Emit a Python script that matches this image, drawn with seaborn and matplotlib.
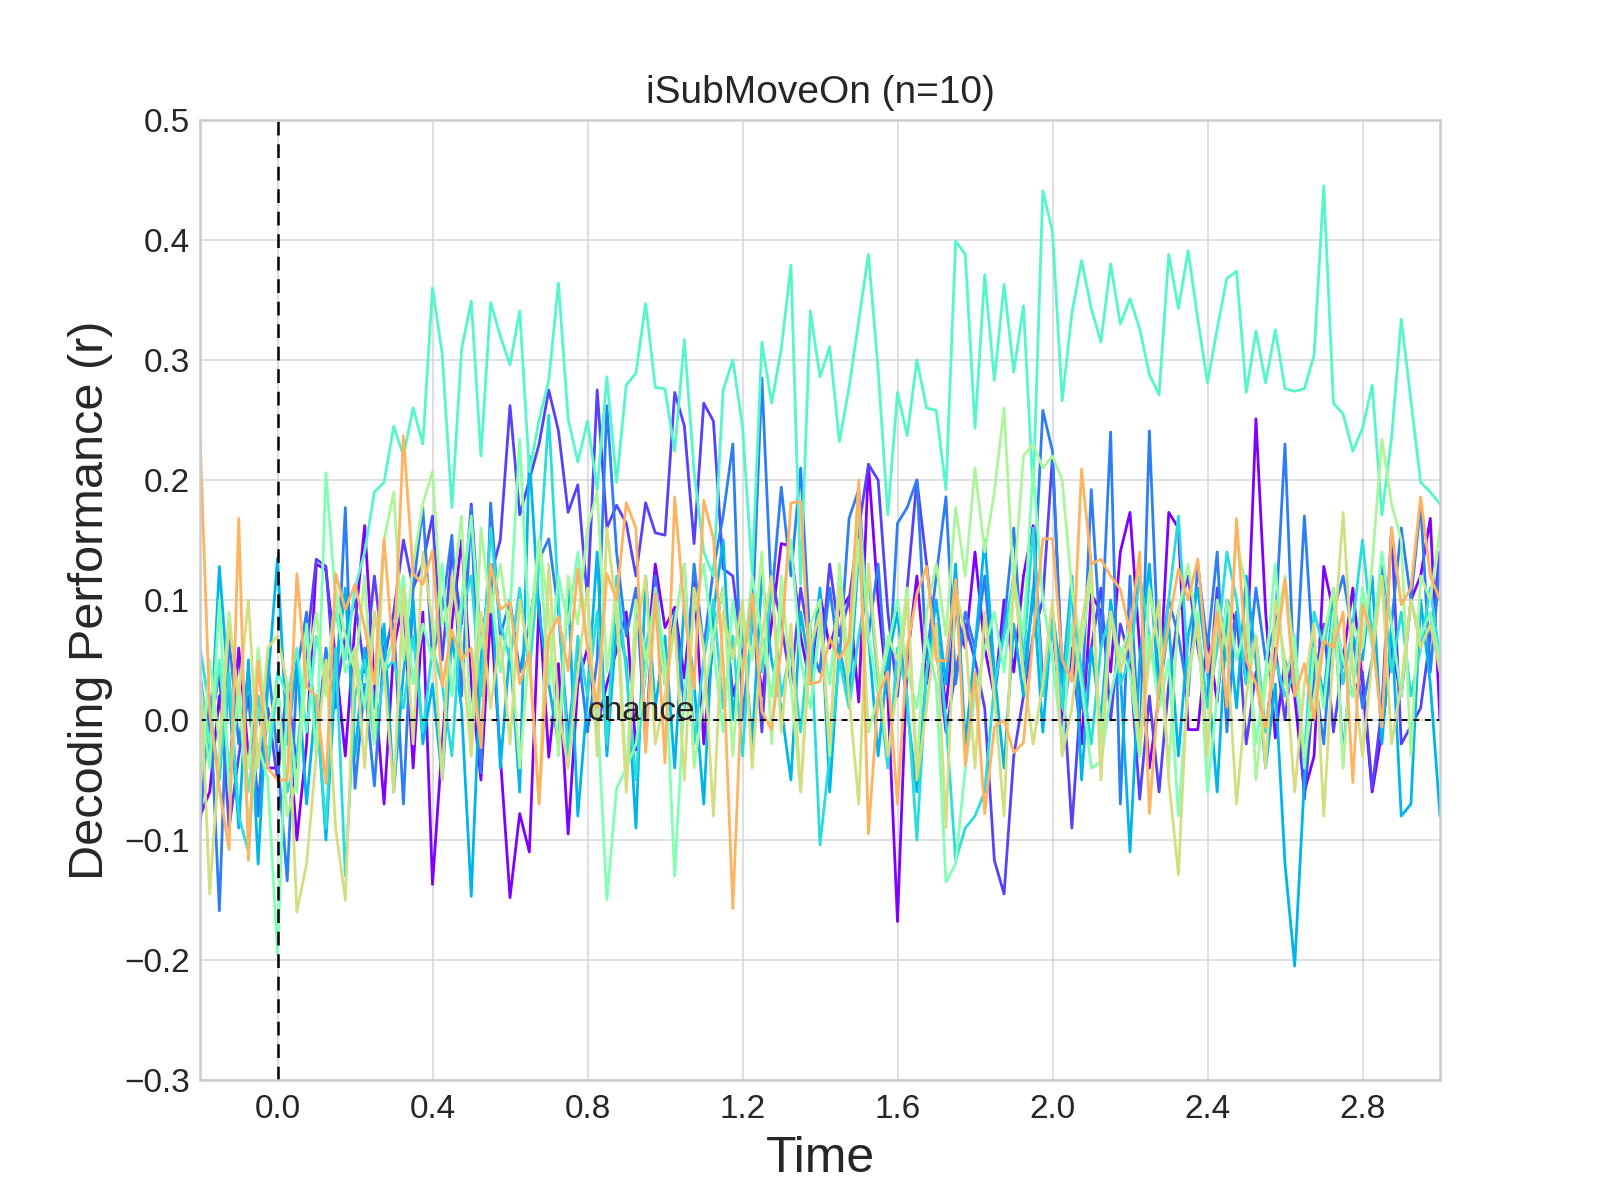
import numpy as np
import pandas as pd
import seaborn as sns
import matplotlib.pyplot as plt

# time axis (s), one sample every 25 ms
time = np.linspace(-0.2, 3.0, 129)

# decoding performance per subject
sub01 = [-0.08, -0.06, 0.02, -0.05, 0.06, -0.03, 0.01, -0.04,
         -0.04, 0.01, -0.10, -0.02, 0.13, 0.125, 0.05, -0.03,
         0.08, 0.162, 0.03, -0.07, 0.06, 0.10, -0.04, 0.09,
         -0.137, -0.02, 0.08, 0.15, 0.03, -0.05, 0.09, -0.03,
         -0.148, -0.078, -0.11, 0.098, -0.031, 0.047, -0.095, 0.03,
         0.06, -0.006, 0.03, 0.058, 0.09, -0.025, 0.04, 0.13,
         0.077, 0.094, 0.035, 0.12, -0.02, 0.07, 0.11, 0.02,
         0.05, 0.10, 0.02, 0.08, 0.147, 0.145, 0.07, 0.03,
         0.105, 0.06, 0.09, 0.103, 0.015, 0.213, 0.10, 0.02,
         -0.168, 0.05, 0.12, 0.03, 0.08, 0.01, 0.09, 0.06,
         0.14, 0.06, 0.02, 0.10, 0.04, 0.12, 0.162, 0.03,
         0.08, -0.005, 0.06, -0.02, 0.105, 0.09, 0.04, 0.14,
         0.173, 0.06, -0.04, 0.02, 0.173, 0.16, -0.008, -0.008,
         0.07, 0.015, 0.10, 0.08, 0.04, 0.251, 0.09, -0.015,
         0.05, 0.02, -0.06, -0.03, 0.128, 0.09, 0.05, 0.11,
         0.03, -0.06, -0.01, 0.06, 0.02, 0.10, 0.12, 0.168,
         0.0]
sub02 = [-0.05, -0.01, 0.04, -0.09, -0.03, 0.02, -0.07, 0.01,
         -0.05, 0.03, -0.04, 0.06, 0.134, 0.128, 0.02, 0.07,
         0.10, 0.04, 0.12, 0.05, 0.09, 0.15, 0.11, 0.13,
         0.17, 0.05, 0.14, 0.08, 0.18, 0.06, 0.12, 0.15,
         0.262, 0.171, 0.20, 0.23, 0.275, 0.241, 0.173, 0.196,
         0.10, 0.275, 0.16, 0.179, 0.164, 0.12, 0.181, 0.156,
         0.154, 0.273, 0.245, 0.147, 0.264, 0.249, 0.126, 0.12,
         0.05, 0.10, -0.01, 0.12, 0.08, 0.03, 0.11, 0.06,
         0.04, 0.13, 0.07, 0.10, 0.16, 0.213, 0.20, 0.09,
         0.02, 0.11, 0.20, 0.13, 0.06, -0.01, 0.04, 0.08,
         0.05, 0.01, -0.117, -0.145, -0.03, 0.02, 0.07, 0.10,
         0.22, 0.04, -0.09, 0.03, 0.06, 0.11, 0.00, 0.08,
         0.05, -0.066, 0.02, -0.06, 0.03, 0.09, 0.12, 0.06,
         0.015, 0.11, 0.05, 0.09, -0.02, 0.04, -0.01, 0.06,
         0.00, 0.07, -0.066, 0.03, 0.08, -0.01, 0.05, 0.02,
         0.04, -0.057, 0.01, 0.16, -0.02, -0.005, 0.01, 0.07,
         0.14]
sub03 = [-0.09, 0.02, -0.159, 0.07, -0.02, 0.04, -0.08, 0.05,
         -0.03, -0.134, 0.04, 0.09, -0.02, 0.06, 0.01, 0.177,
         -0.057, 0.03, -0.055, 0.06, 0.08, -0.07, 0.109, 0.177,
         0.05, 0.092, 0.154, 0.02, 0.177, -0.044, 0.181, 0.07,
         0.10, 0.04, 0.08, 0.134, 0.151, 0.09, -0.014, 0.06,
         -0.01, 0.05, 0.262, 0.14, 0.07, 0.11, -0.02, 0.12,
         0.03, 0.09, 0.01, 0.13, 0.06, 0.126, 0.17, 0.23,
         0.0, 0.08, 0.285, 0.10, 0.194, 0.12, 0.21, 0.06,
         0.04, 0.11, 0.05, 0.168, 0.192, 0.07, 0.13, 0.02,
         0.164, 0.177, 0.20, 0.05, 0.12, 0.186, 0.03, 0.09,
         0.06, 0.12, 0.02, 0.08, 0.16, 0.04, 0.10, 0.258,
         0.224, 0.03, 0.08, 0.01, 0.192, 0.06, 0.24, -0.07,
         0.12, -0.03, 0.241, 0.04, 0.10, 0.07, 0.02, 0.13,
         0.06, 0.14, -0.01, 0.09, 0.03, 0.11, 0.05, 0.08,
         0.23, 0.02, 0.17, 0.04, -0.02, 0.09, 0.12, 0.07,
         0.01, 0.05, 0.13, 0.08, 0.16, 0.10, 0.18, 0.04,
         0.13]
sub04 = [0.04, -0.03, 0.128, 0.02, -0.09, 0.05, -0.12, 0.03,
         0.135, -0.02, 0.05, -0.07, 0.02, -0.10, 0.04, 0.11,
         -0.03, 0.06, 0.01, 0.08, -0.06, 0.04, 0.10, -0.02,
         0.03, -0.05, 0.07, 0.01, -0.147, 0.05, 0.13, -0.04,
         0.06, -0.06, 0.22, 0.09, 0.03, -0.02, 0.11, -0.08,
         0.02, 0.14, -0.03, 0.08, 0.05, -0.09, 0.12, 0.01,
         0.07, -0.04, 0.10, 0.03, -0.07, 0.09, 0.15, 0.00,
         0.08, -0.02, 0.12, 0.05, 0.01, -0.05, 0.09, 0.04,
         0.11, -0.06, 0.06, 0.02, 0.14, 0.07, -0.03, 0.05,
         0.09, 0.01, -0.06, 0.04, 0.10, 0.03, 0.13, -0.02,
         0.06, 0.15, 0.04, -0.04, 0.08, 0.02, 0.11, -0.01,
         0.09, 0.03, 0.12, -0.05, 0.06, 0.00, 0.10, 0.04,
         -0.11, 0.05, 0.13, 0.02, 0.08, -0.03, 0.07, 0.11,
         0.04, -0.06, 0.09, 0.01, 0.12, 0.05, -0.04, 0.03,
         -0.12, -0.205, -0.05, 0.06, 0.02, 0.10, -0.03, 0.07,
         0.05, 0.12, -0.02, 0.08, -0.08, -0.07, 0.10, 0.03,
         -0.08]
sub05 = [0.06, 0.01, -0.05, 0.04, -0.08, -0.11, 0.02, -0.04,
         0.03, -0.06, -0.03, 0.05, 0.01, -0.09, 0.06, -0.13,
         0.02, 0.05, -0.02, 0.04, 0.05, 0.01, 0.07, -0.01,
         0.06, 0.03, -0.03, 0.09, 0.12, 0.02, 0.16, 0.08,
         0.05, 0.11, 0.04, 0.13, 0.254, 0.10, -0.03, 0.07,
         0.02, 0.09, -0.02, 0.12, 0.04, -0.05, 0.06, 0.10,
         0.03, 0.08, 0.13, -0.02, 0.05, 0.10, 0.01, 0.07,
         -0.03, 0.09, 0.04, 0.11, 0.02, 0.06, -0.01, 0.08,
         -0.104, -0.03, 0.05, 0.01, 0.07, 0.12, 0.03, -0.04,
         0.06, 0.02, -0.10, 0.04, 0.08, 0.00, -0.117, -0.09,
         -0.08, -0.06, 0.03, 0.07, 0.12, 0.05, 0.16, 0.02,
         0.08, 0.01, 0.11, 0.04, -0.02, 0.06, 0.09, 0.03,
         0.05, 0.12, 0.07, 0.02, 0.10, 0.17, 0.04, 0.08,
         0.01, 0.06, 0.14, 0.10, 0.03, 0.07, -0.01, 0.05,
         0.02, 0.04, -0.03, 0.09, 0.06, 0.11, 0.03, 0.08,
         0.15, 0.07, 0.12, 0.04, 0.09, 0.02, 0.06, 0.11,
         0.05]
sub06 = [0.03, -0.02, 0.05, -0.04, 0.02, -0.06, 0.01, -0.03,
         0.04, 0.02, 0.06, -0.01, 0.07, 0.03, 0.09, 0.05,
         0.11, 0.14, 0.19, 0.198, 0.245, 0.22, 0.26, 0.23,
         0.36, 0.305, 0.177, 0.309, 0.349, 0.22, 0.348, 0.32,
         0.296, 0.341, 0.207, 0.25, 0.283, 0.364, 0.251, 0.215,
         0.249, 0.192, 0.286, 0.198, 0.279, 0.289, 0.347, 0.277,
         0.276, 0.224, 0.317, 0.207, 0.14, 0.12, 0.275, 0.30,
         0.245, 0.122, 0.315, 0.264, 0.309, 0.379, 0.113, 0.341,
         0.286, 0.311, 0.232, 0.277, 0.333, 0.388, 0.292, 0.171,
         0.273, 0.237, 0.30, 0.26, 0.258, 0.192, 0.399, 0.388,
         0.243, 0.371, 0.283, 0.363, 0.29, 0.345, 0.19, 0.441,
         0.407, 0.266, 0.339, 0.383, 0.343, 0.315, 0.38, 0.33,
         0.351, 0.326, 0.288, 0.271, 0.388, 0.343, 0.391, 0.334,
         0.281, 0.326, 0.368, 0.374, 0.273, 0.324, 0.281, 0.325,
         0.276, 0.274, 0.276, 0.304, 0.445, 0.264, 0.255, 0.224,
         0.243, 0.279, 0.171, 0.235, 0.334, 0.266, 0.198, 0.19,
         0.18]
sub07 = [0.02, -0.04, 0.10, -0.06, 0.03, -0.09, -0.02, -0.05,
         -0.195, 0.02, -0.06, 0.08, -0.03, 0.206, 0.10, 0.04,
         0.06, 0.01, 0.09, 0.04, 0.07, 0.12, 0.03, 0.08,
         0.05, 0.13, 0.02, 0.10, 0.17, 0.06, 0.11, 0.04,
         0.09, 0.234, 0.07, 0.15, 0.03, 0.12, 0.08, 0.14,
         0.06, 0.01, -0.15, -0.057, -0.04, -0.02, 0.04, 0.11,
         0.05, -0.13, 0.02, 0.09, 0.13, 0.06, -0.01, 0.10,
         0.04, 0.12, 0.07, 0.02, 0.09, 0.15, 0.05, 0.01,
         0.08, 0.03, 0.11, 0.05, 0.18, 0.07, 0.02, 0.06,
         0.10, 0.04, 0.01, 0.07, 0.03, -0.135, -0.12, -0.04,
         0.02, 0.06, 0.09, 0.04, 0.12, 0.07, 0.21, 0.10,
         0.05, -0.02, 0.08, 0.03, -0.04, -0.035, 0.02, 0.06,
         0.04, -0.03, 0.07, 0.01, 0.05, -0.08, 0.03, 0.09,
         -0.06, 0.02, 0.10, 0.05, 0.08, -0.02, 0.04, 0.13,
         0.03, 0.07, -0.04, 0.06, 0.01, 0.09, 0.05, 0.02,
         0.11, 0.06, 0.14, 0.08, 0.02, 0.10, 0.07, 0.09,
         0.05]
sub08 = [-0.06, 0.05, -0.02, 0.09, 0.01, -0.04, 0.06, -0.01,
         0.03, -0.08, -0.05, 0.04, 0.09, 0.02, 0.11, 0.07,
         0.04, 0.12, -0.02, 0.15, 0.19, 0.05, 0.13, 0.18,
         0.207, 0.08, 0.10, 0.17, -0.02, 0.16, 0.09, 0.13,
         0.07, -0.04, 0.06, 0.15, 0.09, -0.03, 0.12, 0.08,
         0.16, 0.19, 0.04, 0.11, -0.05, 0.10, 0.05, 0.09,
         0.03, 0.08, 0.13, -0.04, 0.02, 0.07, 0.11, -0.03,
         0.09, 0.05, 0.14, -0.02, 0.12, 0.03, -0.06, 0.08,
         0.10, -0.03, 0.13, 0.04, 0.15, -0.01, 0.02, 0.07,
         0.05, 0.11, -0.04, 0.09, 0.13, 0.07, 0.177, 0.12,
         0.21, 0.14, 0.19, 0.26, 0.11, 0.22, 0.23, 0.21,
         0.22, 0.20, 0.109, 0.06, 0.12, -0.02, 0.09, 0.05,
         0.08, -0.03, 0.11, 0.06, -0.04, 0.09, 0.13, 0.07,
         -0.02, 0.10, 0.06, 0.15, 0.11, -0.05, 0.03, 0.07,
         0.12, 0.05, -0.03, 0.02, 0.07, 0.11, -0.04, 0.08,
         0.06, 0.13, 0.234, 0.18, 0.15, -0.03, 0.12, 0.10,
         0.16]
sub09 = [0.05, -0.145, -0.03, 0.08, 0.02, 0.10, -0.04, 0.06,
         0.07, 0.03, -0.16, -0.12, -0.03, 0.05, -0.09, -0.15,
         0.06, -0.04, 0.09, 0.04, -0.06, 0.11, -0.02, 0.14,
         0.08, -0.05, 0.12, 0.06, -0.03, 0.09, 0.01, 0.07,
         -0.02, 0.10, 0.05, -0.07, 0.13, 0.01, -0.04, 0.04,
         0.11, -0.03, 0.16, 0.09, -0.06, 0.07, 0.12, -0.02,
         0.02, 0.08, -0.05, 0.11, 0.06, -0.08, 0.09, 0.05,
         0.10, -0.04, 0.07, 0.12, -0.01, 0.08, -0.06, 0.06,
         0.09, -0.02, 0.11, 0.02, -0.07, 0.13, 0.04, -0.03,
         0.03, 0.10, -0.05, 0.01, 0.08, -0.09, 0.11, 0.07,
         -0.04, 0.09, 0.02, -0.08, 0.12, 0.04, -0.02, 0.03,
         0.10, -0.03, 0.01, 0.08, 0.13, -0.05, 0.09, 0.04,
         0.07, -0.02, 0.05, 0.10, -0.05, -0.129, 0.04, 0.08,
         -0.03, 0.09, 0.06, -0.07, 0.02, 0.07, -0.04, 0.10,
         0.05, -0.06, 0.03, 0.08, -0.08, 0.06, 0.173, 0.04,
         -0.03, 0.05, 0.12, -0.02, 0.03, 0.10, 0.06, 0.08,
         0.04]
sub10 = [0.237, 0.007, -0.057, -0.108, 0.168, -0.117, 0.049, -0.04,
         -0.05, -0.05, 0.122, 0.028, 0.02, -0.053, 0.122, 0.092,
         0.113, 0.077, 0.03, 0.151, 0.049, 0.237, 0.122, 0.113,
         0.141, 0.028, 0.075, 0.05, 0.06, -0.023, 0.13, 0.092,
         0.098, 0.03, 0.056, -0.07, 0.07, 0.086, 0.041, 0.126,
         0.06, 0.011, 0.122, 0.10, 0.181, 0.16, -0.027, 0.105,
         -0.036, 0.186, 0.09, 0.026, 0.183, 0.151, 0.05, -0.157,
         0.04, 0.105, 0.007, -0.008, 0.06, 0.181, 0.182, 0.03,
         0.032, 0.068, 0.051, 0.066, 0.20, -0.095, 0.02, 0.04,
         -0.07, 0.06, 0.105, 0.128, 0.05, 0.049, 0.117, -0.038,
         0.04, -0.078, -0.006, 0.0, -0.027, -0.019, 0.07, 0.151,
         0.151, 0.05, 0.032, 0.209, 0.13, 0.134, 0.12, 0.109,
         0.073, 0.14, -0.078, 0.03, 0.08, 0.126, 0.10, 0.134,
         0.04, 0.09, 0.011, 0.168, 0.05, 0.03, -0.006, 0.05,
         0.117, 0.02, 0.047, 0.0, 0.066, 0.06, 0.09, -0.052,
         0.096, 0.07, -0.006, 0.16, 0.096, 0.11, 0.186, 0.12,
         0.10]

subjects = [sub01, sub02, sub03, sub04, sub05, sub06, sub07, sub08, sub09, sub10]
sub_names = ['s%02d' % (i + 1) for i in range(len(subjects))]

xticks = [0.0, 0.4, 0.8, 1.2, 1.6, 2.0, 2.4, 2.8]
yticks = [-0.3, -0.2, -0.1, 0.0, 0.1, 0.2, 0.3, 0.4, 0.5]

# long-form table for seaborn
df = pd.concat(
    [pd.DataFrame({'Time': time, 'r': vals, 'subject': name})
     for name, vals in zip(sub_names, subjects)],
    ignore_index=True)

# style
sns.set_style("whitegrid", {'axes.edgecolor': '.8', 'grid.color': '.85'})
plt.rcParams['font.family'] = ['Liberation Sans', 'DejaVu Sans']
plt.rcParams['axes.linewidth'] = 0.9
plt.rcParams['grid.linewidth'] = 0.6

rainbow = sns.color_palette("rainbow", as_cmap=True)
palette = [rainbow(v) for v in np.linspace(0, 0.75, len(subjects))]

fig, ax = plt.subplots(figsize=(8, 6), dpi=200)
fig.subplots_adjust(left=0.125, right=0.9, top=0.9, bottom=0.1)

sns.lineplot(data=df, x='Time', y='r', hue='subject', palette=palette,
             estimator=None, errorbar=None, linewidth=1.0, legend=False, ax=ax)

# event onset and chance level
ax.axvline(0, color='k', lw=0.9, dashes=(5.5, 3.5))
ax.axhline(0, color='k', lw=0.7, dashes=(3, 3))
ax.text(0.8, 0.0, 'chance', fontsize=12, ha='left', va='baseline', color='#262626')

ax.set_xlim(-0.2, 3.0)
ax.set_ylim(-0.3, 0.5)
ax.set_xticks(xticks)
ax.set_yticks(yticks)
ax.tick_params(labelsize=12, colors='#262626', length=0)
ax.tick_params(axis='x', pad=5)
ax.tick_params(axis='y', pad=3.5)
ax.set_title('iSubMoveOn (n=10)', fontsize=14)
ax.set_xlabel('Time', fontsize=18, labelpad=4)
ax.set_ylabel('Decoding Performance (r)', fontsize=17.5, labelpad=4)

plt.savefig('out.png', dpi=200)
plt.close()
